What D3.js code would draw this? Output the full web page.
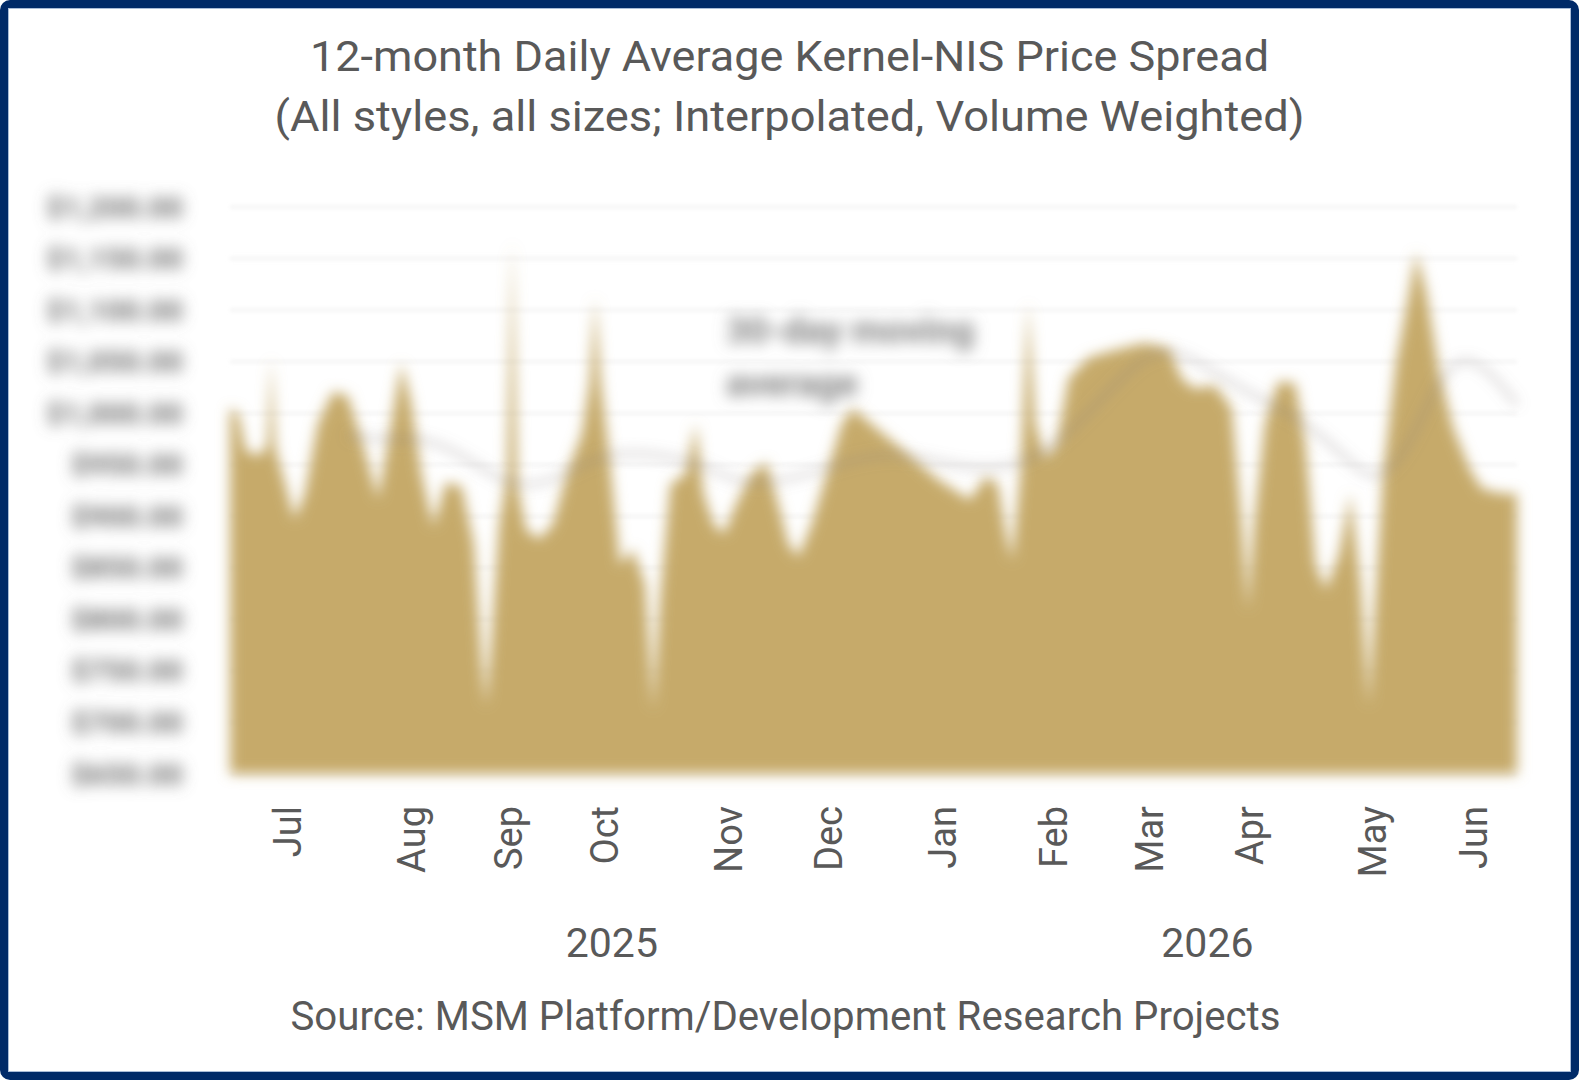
<!DOCTYPE html>
<html>
<head>
<meta charset="utf-8">
<script src="https://cdn.jsdelivr.net/npm/d3@7"></script>
<style>
  html, body { margin: 0; padding: 0; background: #ffffff; }
  svg { display: block; }
  text { font-family: Roboto, "Noto Sans", sans-serif; fill: #595959; }
</style>
</head>
<body>
<svg id="chart" width="1579" height="1080"></svg>
<script>
// ---------------- data ----------------
const titleLines = ["12-month Daily Average Kernel-NIS Price Spread",
                    "(All styles, all sizes; Interpolated, Volume Weighted)"];
const sourceText = "Source: MSM Platform/Development Research Projects";

// day index within the 12-month window (0 = first trading day shown)
const dayIndex = [0,2.3,4.6,8.6,10.6,11.7,12.9,15.7,18.3,21.2,24.9,29.2,33.4,37.7,42,45.7,48.6,51.4,54.3,57.7,
  61.2,65.7,69.2,71.5,72.6,74,76.3,78.6,80,81.5,84,87.7,91.5,95.5,99.8,102,103.5,105.2,107.5,110.6,
  114.3,117.8,120,122,124.9,129.2,132.1,134.3,137.2,140.1,143.5,147.8,152.1,155.5,158.4,161.2,164.9,169.2,173.5,176.6,
  183.5,192.1,200.7,209.8,214.4,217.8,220.1,221.8,224.1,226.4,228.4,231.2,234.4,237.8,243.5,250.7,259.3,266.4,269.8,273.5,
  279.3,284.1,287,288.7,290.4,293.5,297.3,302.1,305,307.9,310.8,314.5,317.8,320.7,323,324.7,327,330.7,334.4,336.4,
  339.3,343,347,351.6,355,360.8,365];
// daily average spread ($)
const spread = [1005,1000,963,959,970,1053,966,931,897,922,990,1021,1017,970,917,990,1049,1010,941,890,
  933,929,873,756,716,775,892,941,1166,931,887,878,892,941,980,1029,1112,1029,961,853,
  868,834,712,824,931,941,990,922,892,883,912,941,953,912,873,861,892,941,990,1005,
  985,961,936,916,939,931,883,857,941,1107,990,956,970,1034,1054,1061,1068,1063,1034,1024,
  1027,1005,892,809,892,990,1031,1029,970,853,829,863,922,834,716,814,941,1049,1117,1156,
  1117,1039,985,946,927,922,922];

// 30-day moving average ($)
const maDay = [33.4,43.4,54.9,66.3,77.7,89.2,100.6,112,123.5,134.9,144.9,154.9,166.4,177.8,189.2,200.7,212.1,223.5,235,246.4,
  257.8,266.4,275,286.4,297.8,309.3,319.3,326.4,335,343.6,350.7,357.8,365];
const maValue = [978,974,977,959,931,929,953,963,959,949,931,933,943,956,961,953,945,949,970,1011,
  1053,1063,1049,1024,1005,980,946,933,970,1041,1056,1039,1008];
const maLabel = ["30-day moving", "average"];

// y-axis ticks ($)
const yTicks = [650,700,750,800,850,900,950,1000,1050,1100,1150,1200];

// category axis labels
const months = ["Jul","Aug","Sep","Oct","Nov","Dec","Jan","Feb","Mar","Apr","May","Jun"];
const monthPos = [16.3,51.4,79.1,106.3,141.4,169.8,202,233.5,260.7,289.2,324.1,352.7];
const years = ["2025","2026"];
const yearPos = [108.3,277.2];

// ---------------- layout ----------------
const W = 1579, H = 1080;
const plot = {left: 230, right: 1517, top: 207, bottom: 774};
const svg = d3.select("#chart");

const defs = svg.append("defs");
function blur(id, sd) {
  defs.append("filter").attr("id", id)
    .attr("filterUnits","userSpaceOnUse").attr("x",0).attr("y",140).attr("width",1579).attr("height",720)
    .append("feGaussianBlur").attr("stdDeviation", sd);
}
blur("blurArea", 6.5);
blur("blurText", 7.5);
blur("blurGrid", 2);

svg.append("rect").attr("width",W).attr("height",H).attr("fill","#ffffff");

const x = d3.scaleLinear().domain([0,365]).range([plot.left, plot.right]);
const y = d3.scaleLinear().domain([650,1200]).range([plot.bottom, plot.top]);

// gridlines
svg.append("g").attr("filter","url(#blurGrid)")
  .selectAll("line").data(yTicks).join("line")
  .attr("x1", plot.left).attr("x2", plot.right)
  .attr("y1", d => y(d)).attr("y2", d => y(d))
  .attr("stroke","#ececec").attr("stroke-width",2);

// area
const pts = dayIndex.map((d,i) => [d, spread[i]]);
const area = d3.area().x(d => x(d[0])).y0(y(650)).y1(d => y(d[1])).curve(d3.curveLinear);
svg.append("path").datum(pts).attr("d", area)
  .attr("fill","#c6aa6a").attr("filter","url(#blurArea)");

// moving average line
const maPts = maDay.map((d,i) => [d, maValue[i]]);
const line = d3.line().x(d => x(d[0])).y(d => y(d[1])).curve(d3.curveBasis);
svg.append("path").datum(maPts).attr("d", line)
  .attr("fill","none").attr("stroke","#8a8080").attr("stroke-opacity",0.45)
  .attr("stroke-width",4).attr("filter","url(#blurArea)");

// moving average label
svg.append("g").attr("filter","url(#blurText)")
  .selectAll("text").data(maLabel).join("text")
  .attr("x", 726).attr("y", (d,i) => 343 + i*53)
  .attr("font-size", 37).attr("font-weight", 700).style("fill","#808080").text(d => d);

// y-axis labels
const fmt = d3.format("$,.2f");
svg.append("g").attr("filter","url(#blurText)")
  .selectAll("text").data(yTicks).join("text")
  .attr("x", 183).attr("y", d => y(d)).attr("dy","0.35em")
  .attr("text-anchor","end").attr("font-size", 30).attr("font-weight", 700)
  .style("fill","#707070")
  .text(d => fmt(d));

// month labels (rotated)
svg.append("g").selectAll("text").data(months).join("text")
  .attr("transform", (d,i) => `translate(${x(monthPos[i])},806) rotate(-90)`)
  .attr("text-anchor","end").attr("dy","0.35em")
  .attr("font-size", 38).text(d => d);

// year labels
svg.append("g").selectAll("text").data(years).join("text")
  .attr("x", (d,i) => x(yearPos[i])).attr("y", 957)
  .attr("text-anchor","middle").attr("font-size", 41).text(d => d);

// title
const titleWidths = [959, 1030];
svg.append("g").selectAll("text").data(titleLines).join("text")
  .attr("x", W/2).attr("y", (d,i) => 71 + i*60)
  .attr("text-anchor","middle").attr("font-size", 43)
  .attr("textLength", (d,i) => titleWidths[i]).attr("lengthAdjust","spacingAndGlyphs")
  .text(d => d);

// source
svg.append("text").attr("x", W/2 - 4).attr("y", 1030)
  .attr("text-anchor","middle").attr("font-size", 40)
  .attr("textLength", 990).attr("lengthAdjust","spacingAndGlyphs")
  .text(sourceText);

// frame
svg.append("rect").attr("x",4).attr("y",4).attr("width",W-8).attr("height",H-8)
  .attr("rx",6).attr("fill","none").attr("stroke","#002a68").attr("stroke-width",8);
svg.append("rect").attr("x",8.5).attr("y",8.5).attr("width",W-17).attr("height",H-17)
  .attr("fill","none").attr("stroke","#a9bcd8").attr("stroke-width",1);
</script>
</body>
</html>
